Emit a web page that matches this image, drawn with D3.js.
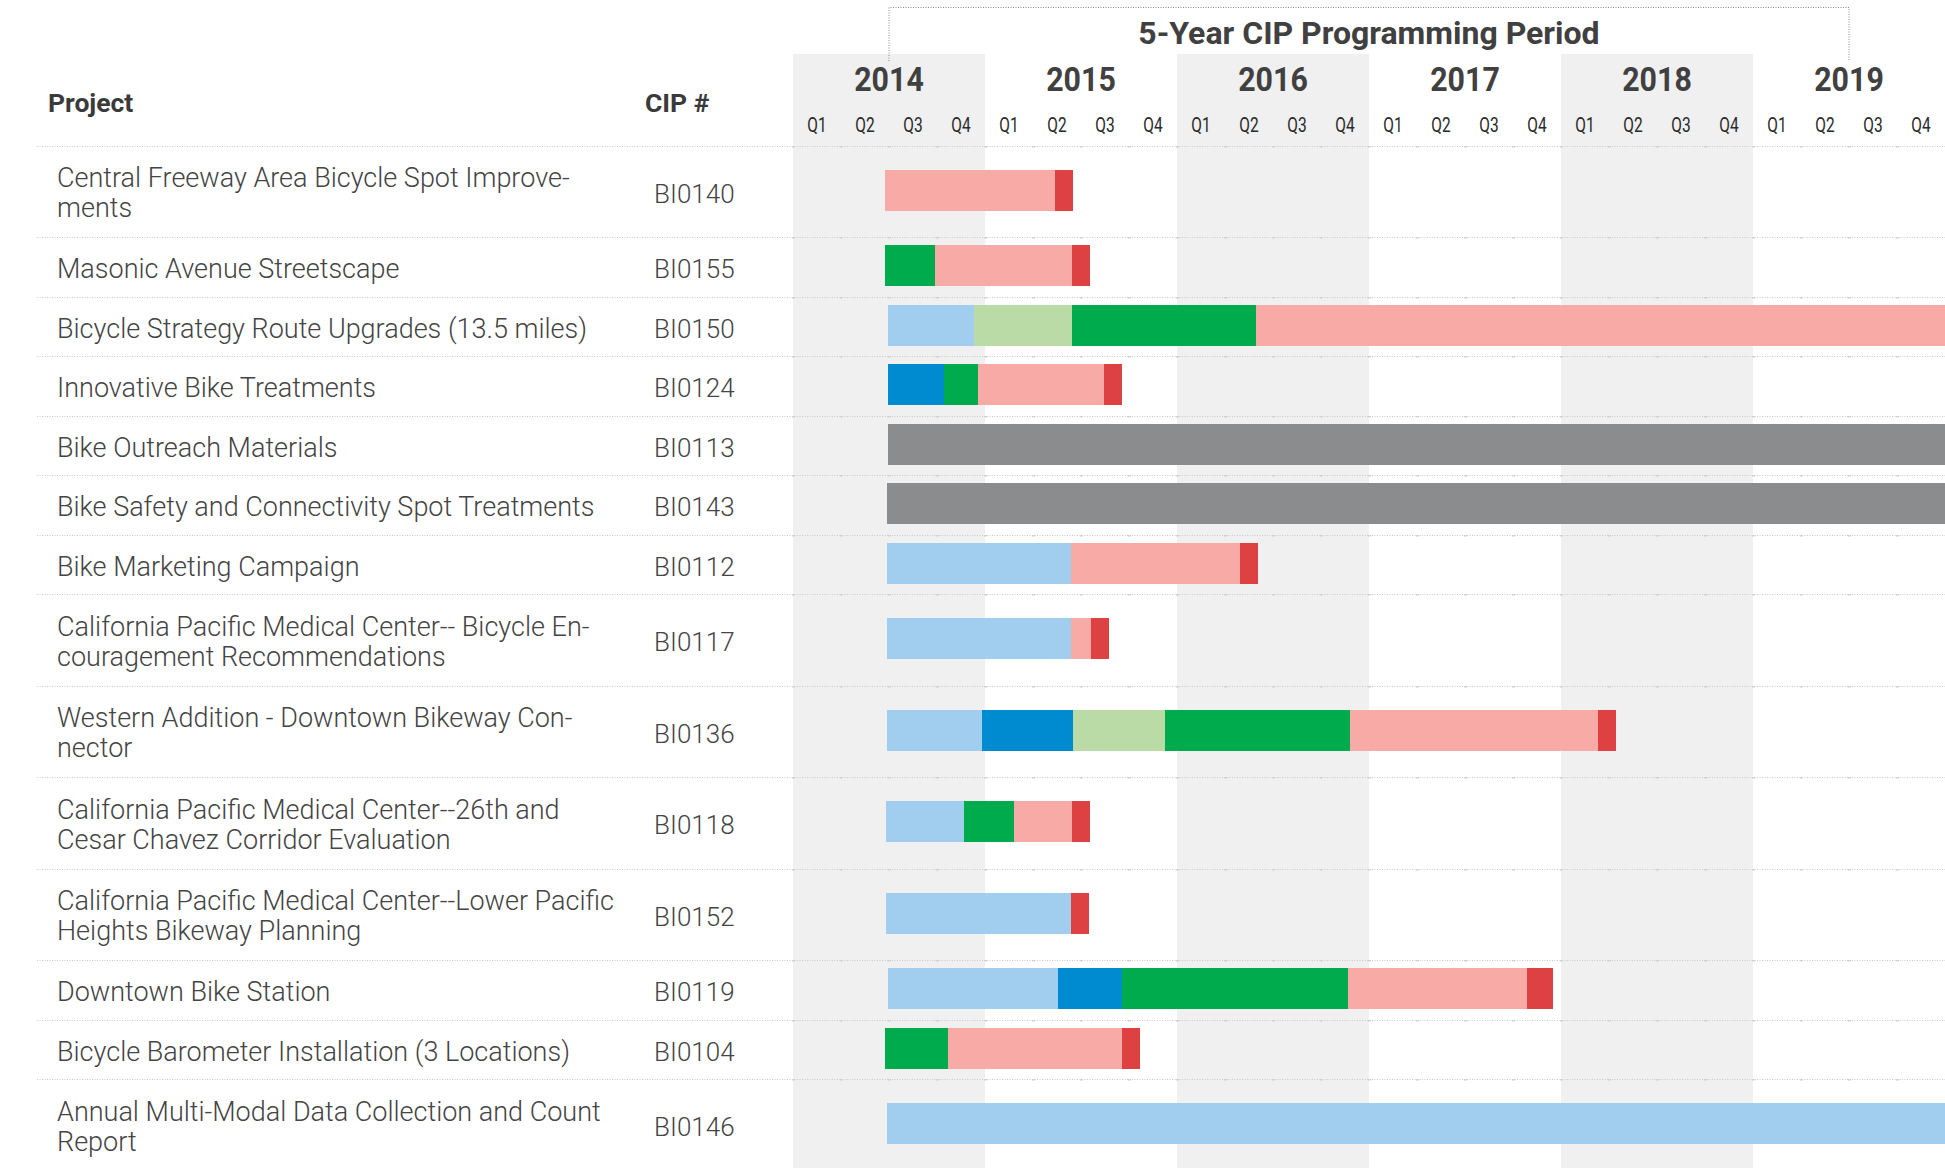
<!DOCTYPE html>
<html>
<head>
<meta charset="utf-8">
<script src="https://cdn.jsdelivr.net/npm/d3@7"></script>
<style>
  body { margin: 0; background: #fff; }
  svg { display: block; font-family: Roboto, "Noto Sans", sans-serif; }
  .band { fill: #f0f0f0; }
  .year { font-weight: 700; font-size: 33px; fill: #404040; }
  .quarter { font-size: 21px; fill: #2a2a2a; }
  .head { font-weight: 700; font-size: 26.5px; fill: #3a3a3a; }
  .title { font-weight: 700; font-size: 32px; fill: #404040; }
  .name { font-weight: 300; font-size: 27px; fill: #444; }
  .cip { font-weight: 300; font-size: 26px; fill: #444; }
  .divider { stroke: #c9c9c9; stroke-width: 1; stroke-dasharray: 1,1.5; }
  .qtick { fill: #d2d2d2; }
  .bracket { fill: none; stroke: #8a8a8a; stroke-width: 1; stroke-dasharray: 1,1.5; }
</style>
</head>
<body>
<svg width="1945" height="1168"></svg>
<script>
// columns of the table
var projects = [
  ['Central Freeway Area Bicycle Spot Improve-', 'ments'],
  ['Masonic Avenue Streetscape'],
  ['Bicycle Strategy Route Upgrades (13.5 miles)'],
  ['Innovative Bike Treatments'],
  ['Bike Outreach Materials'],
  ['Bike Safety and Connectivity Spot Treatments'],
  ['Bike Marketing Campaign'],
  ['California Pacific Medical Center-- Bicycle En-', 'couragement Recommendations'],
  ['Western Addition - Downtown Bikeway Con-', 'nector'],
  ['California Pacific Medical Center--26th and', 'Cesar Chavez Corridor Evaluation'],
  ['California Pacific Medical Center--Lower Pacific', 'Heights Bikeway Planning'],
  ['Downtown Bike Station'],
  ['Bicycle Barometer Installation (3 Locations)'],
  ['Annual Multi-Modal Data Collection and Count', 'Report']
];

var cipNumbers = ['BI0140', 'BI0155', 'BI0150', 'BI0124', 'BI0113', 'BI0143', 'BI0112',
                  'BI0117', 'BI0136', 'BI0118', 'BI0152', 'BI0119', 'BI0104', 'BI0146'];

var years = [2014, 2015, 2016, 2017, 2018, 2019];
var quarters = ['Q1', 'Q2', 'Q3', 'Q4'];
var programmingPeriod = [2014.5, 2019.5];

// phase schedule per project: [phase, start, end] in decimal years
var schedule = [
  [['con', 2014.479, 2015.365], ['close', 2015.365, 2015.458]],
  [['des', 2014.479, 2014.740], ['con', 2014.740, 2015.453], ['close', 2015.453, 2015.547]],
  [['plan', 2014.495, 2014.943], ['pre', 2014.943, 2015.453], ['des', 2015.453, 2016.411], ['con', 2016.411, 2020]],
  [['env', 2014.495, 2014.786], ['des', 2014.786, 2014.964], ['con', 2014.964, 2015.620], ['close', 2015.620, 2015.714]],
  [['prog', 2014.495, 2020]],
  [['prog', 2014.490, 2020]],
  [['plan', 2014.490, 2015.448], ['con', 2015.448, 2016.328], ['close', 2016.328, 2016.422]],
  [['plan', 2014.490, 2015.448], ['con', 2015.448, 2015.552], ['close', 2015.552, 2015.646]],
  [['plan', 2014.490, 2014.984], ['env', 2014.984, 2015.458], ['pre', 2015.458, 2015.938], ['des', 2015.938, 2016.901], ['con', 2016.901, 2018.193], ['close', 2018.193, 2018.286]],
  [['plan', 2014.484, 2014.891], ['des', 2014.891, 2015.151], ['con', 2015.151, 2015.453], ['close', 2015.453, 2015.547]],
  [['plan', 2014.484, 2015.448], ['close', 2015.448, 2015.542]],
  [['plan', 2014.495, 2015.380], ['env', 2015.380, 2015.712], ['des', 2015.712, 2016.891], ['con', 2016.891, 2017.823], ['close', 2017.823, 2017.958]],
  [['des', 2014.479, 2014.807], ['con', 2014.807, 2015.714], ['close', 2015.714, 2015.807]],
  [['plan', 2014.490, 2020]]
];

var phaseKeys = ['plan', 'env', 'pre', 'des', 'con', 'close', 'prog'];
var phaseColors = ['#a1cdee', '#008bd0', '#badba6', '#00ab4e', '#f7aaa6', '#dd4141', '#8b8c8e'];

var svg = d3.select('svg'),
    w = +svg.attr('width'),
    h = +svg.attr('height'),
    headY = 145.5,
    rowSingle = 59.5,
    rowDouble = 91.5,
    barH = 41;

var xScale = d3.scaleLinear()
      .domain([2014, 2020])
      .range([793, w]),
    color = d3.scaleOrdinal()
      .domain(phaseKeys)
      .range(phaseColors);

// row positions, tall rows for two-line names
var rows = [], rowY = headY;
projects.forEach(function(lines, i){
  var rh = lines.length > 1 ? rowDouble : rowSingle;
  rows.push({ i: i, y0: rowY, y1: rowY + rh, c: rowY + rh / 2 });
  rowY += rh;
});

// alternating year bands
svg.selectAll('rect.band')
  .data(years.filter(function(d, i){ return i % 2 === 0; }))
  .enter()
  .append('rect')
  .attr('class', 'band')
  .attr('x', function(d){ return xScale(d); })
  .attr('y', 54)
  .attr('width', function(d){ return xScale(d + 1) - xScale(d); })
  .attr('height', h - 54);

// bracket for the programming period
var bx0 = xScale(programmingPeriod[0]), bx1 = xScale(programmingPeriod[1]);
svg.append('path')
  .attr('class', 'bracket')
  .attr('d', 'M' + bx0 + ',61V7.5H' + bx1 + 'V61');

svg.append('text')
  .attr('class', 'title')
  .attr('text-anchor', 'middle')
  .attr('x', (bx0 + bx1) / 2)
  .attr('y', 44)
  .text('5-Year CIP Programming Period');

svg.selectAll('text.year')
  .data(years)
  .enter()
  .append('text')
  .attr('class', 'year')
  .attr('text-anchor', 'middle')
  .attr('transform', function(d){
    return 'translate(' + (xScale(d) + xScale(d + 1)) / 2 + ',91) scale(0.92,1)';
  })
  .text(function(d){ return d; });

var qData = [];
years.forEach(function(yr){
  quarters.forEach(function(q, j){ qData.push({ t: yr + j / 4, label: q }); });
});

svg.selectAll('text.quarter')
  .data(qData)
  .enter()
  .append('text')
  .attr('class', 'quarter')
  .attr('text-anchor', 'middle')
  .attr('transform', function(d){
    return 'translate(' + xScale(d.t + 0.125) + ',132) scale(0.74,1)';
  })
  .text(function(d){ return d.label; });

svg.append('text').attr('class', 'head').attr('x', 48).attr('y', 112).text('Project');
svg.append('text').attr('class', 'head').attr('x', 645).attr('y', 112).text('CIP #');

// dotted row dividers, with small marks at every quarter
var lineYs = [headY].concat(rows.map(function(r){ return r.y1; }));

svg.selectAll('line.divider')
  .data(lineYs)
  .enter()
  .append('line')
  .attr('class', 'divider')
  .attr('x1', 37)
  .attr('x2', w)
  .attr('y1', function(d){ return Math.round(d) + 0.5; })
  .attr('y2', function(d){ return Math.round(d) + 0.5; });

lineYs.forEach(function(ly){
  svg.append('g').selectAll('rect')
    .data(qData)
    .enter()
    .append('rect')
    .attr('class', 'qtick')
    .attr('x', function(d){ return xScale(d.t) - 1; })
    .attr('y', Math.round(ly))
    .attr('width', 3)
    .attr('height', 1.5);
});

// table text and bars
var rowG = svg.selectAll('g.row')
  .data(rows)
  .enter()
  .append('g')
  .attr('class', 'row');

rowG.each(function(r){
  var g = d3.select(this),
      lines = projects[r.i],
      first = lines.length > 1 ? r.c - 4 : r.c + 11.5;
  lines.forEach(function(t, k){
    g.append('text')
      .attr('class', 'name')
      .attr('x', 57)
      .attr('y', first + k * 30)
      .text(t);
  });
  g.append('text')
    .attr('class', 'cip')
    .attr('x', 654)
    .attr('y', r.c + 11.5)
    .text(cipNumbers[r.i]);

  g.selectAll('rect.seg')
    .data(schedule[r.i])
    .enter()
    .append('rect')
    .attr('class', 'seg')
    .attr('x', function(d){ return xScale(d[1]); })
    .attr('width', function(d){ return xScale(d[2]) - xScale(d[1]); })
    .attr('y', r.c - 1 - barH / 2)
    .attr('height', barH)
    .attr('fill', function(d){ return color(d[0]); })
    .attr('shape-rendering', 'crispEdges');
});
</script>
</body>
</html>
